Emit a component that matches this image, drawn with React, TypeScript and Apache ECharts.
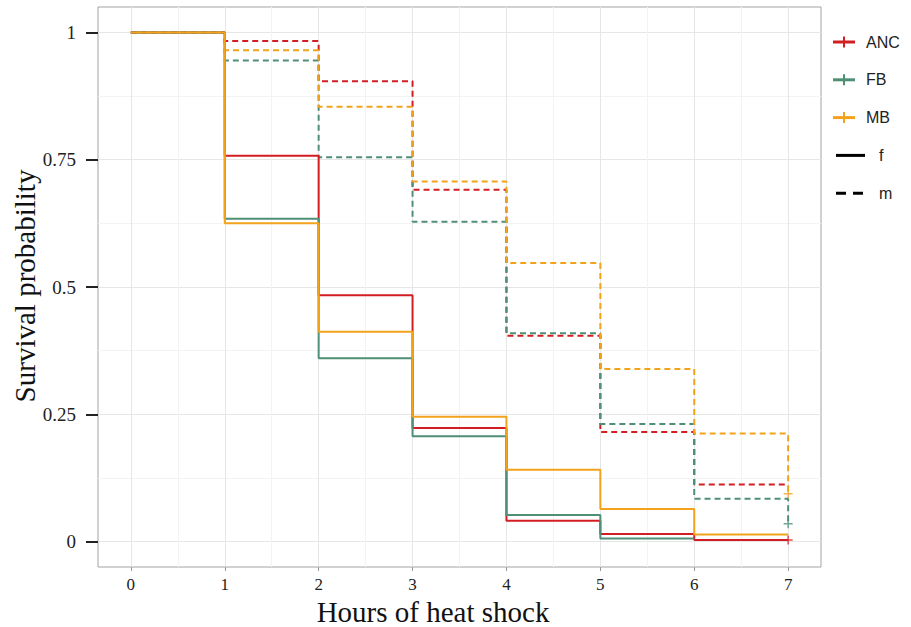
import React, { useEffect, useRef } from "react";
import * as echarts from "echarts";

const hours = [0, 1, 2, 3, 4, 5, 6, 7];
const xTicks = [0, 1, 2, 3, 4, 5, 6, 7];
const xMinor = [0.5, 1.5, 2.5, 3.5, 4.5, 5.5, 6.5];
const yTicks = [0, 0.25, 0.5, 0.75, 1];
const yMinor = [0.125, 0.375, 0.625, 0.875];

const ancF = [1, 0.758, 0.484, 0.223, 0.041, 0.015, 0.003, 0.003];
const fbF = [1, 0.634, 0.36, 0.207, 0.052, 0.006, 0.006];
const mbF = [1, 0.625, 0.412, 0.245, 0.141, 0.064, 0.014, 0.014];
const ancM = [1, 0.983, 0.904, 0.691, 0.404, 0.215, 0.112, 0.112];
const fbM = [1, 0.945, 0.755, 0.628, 0.409, 0.231, 0.084, 0.035];
const mbM = [1, 0.965, 0.854, 0.707, 0.547, 0.339, 0.212, 0.094];

const groups = ["ANC", "FB", "MB"];
const colors = ["#D21E23", "#4E8F75", "#F2A31B"];
const censorTimes = [7, 7, 7];
const censorValues = [0.003, 0.035, 0.094];

const plusPath =
  "path://M4.2,0H5.8V4.2H10V5.8H5.8V10H4.2V5.8H0V4.2H4.2Z";

function pairs(vals: number[]) {
  return vals.map((v, i) => [hours[i], v]);
}

export default function App() {
  const ref = useRef<HTMLDivElement>(null);
  useEffect(() => {
    if (!ref.current) return;
    const chart = echarts.init(ref.current, null, { renderer: "svg" });
    const stepSeries = (name: string, vals: number[], color: string, dashed: boolean, z: number) => ({
      name,
      type: "line",
      step: "end",
      data: pairs(vals),
      showSymbol: false,
      symbol: "none",
      z,
      lineStyle: { color, width: 2, type: dashed ? [6, 4] : "solid" },
    });
    const legendY = [42, 79.8, 117.6, 155.4, 193.2];
    const legendFont = "16px 'Liberation Sans', Arial, sans-serif";
    const legendGraphics: any[] = [];
    groups.forEach((g, i) => {
      legendGraphics.push({
        type: "line",
        shape: { x1: 833, y1: legendY[i], x2: 855, y2: legendY[i] },
        style: { stroke: colors[i], lineWidth: 3 },
      });
      legendGraphics.push({
        type: "line",
        shape: { x1: 844, y1: legendY[i] - 5.5, x2: 844, y2: legendY[i] + 5.5 },
        style: { stroke: colors[i], lineWidth: 2 },
      });
      legendGraphics.push({
        type: "text",
        x: 866,
        y: legendY[i],
        style: {
          text: g,
          fill: "#222",
          font: legendFont,
          verticalAlign: "middle",
          align: "left",
        },
      });
    });
    legendGraphics.push({
      type: "line",
      shape: { x1: 836, y1: legendY[3], x2: 865, y2: legendY[3] },
      style: { stroke: "#000", lineWidth: 3 },
    });
    legendGraphics.push({
      type: "text",
      x: 879,
      y: legendY[3],
      style: { text: "f", fill: "#222", font: legendFont, verticalAlign: "middle", align: "left" },
    });
    legendGraphics.push({
      type: "line",
      shape: { x1: 836, y1: legendY[4], x2: 864, y2: legendY[4] },
      style: { stroke: "#000", lineWidth: 3, lineDash: [10, 7] },
    });
    legendGraphics.push({
      type: "text",
      x: 879,
      y: legendY[4],
      style: { text: "m", fill: "#222", font: legendFont, verticalAlign: "middle", align: "left" },
    });

    chart.setOption({
      animation: false,
      backgroundColor: "#fff",
      grid: {
        left: 98,
        right: 90,
        top: 7,
        bottom: 60,
        show: true,
        borderColor: "#a3a3a3",
        borderWidth: 1,
        backgroundColor: "transparent",
      },
      xAxis: [
        {
          type: "value",
          min: -0.35,
          max: 7.35,
          position: "bottom",
          axisLine: { show: false, onZero: false },
          axisTick: { show: true, customValues: xTicks, length: 4, lineStyle: { color: "#999", width: 1 } },
          axisLabel: {
            customValues: xTicks,
            margin: 9,
            fontFamily: "'Liberation Serif', 'Times New Roman', serif",
            fontSize: 17,
            color: "#222",
          },
          splitLine: { show: true, lineStyle: { color: "#e6e6e6", width: 1 } },
        },
        {
          type: "value",
          min: -0.35,
          max: 7.35,
          position: "top",
          axisLine: { show: false, onZero: false },
          axisTick: { show: false, customValues: xMinor },
          axisLabel: { show: false, customValues: xMinor },
          splitLine: { show: true, lineStyle: { color: "#f3f3f3", width: 1 } },
        },
      ],
      yAxis: [
        {
          type: "value",
          min: -0.05,
          max: 1.05,
          position: "left",
          axisLine: { show: false, onZero: false },
          axisTick: { show: true, customValues: yTicks, length: 12, lineStyle: { color: "#222", width: 2 } },
          axisLabel: {
            customValues: yTicks,
            margin: 22,
            fontFamily: "'Liberation Serif', 'Times New Roman', serif",
            fontSize: 19,
            color: "#222",
          },
          splitLine: { show: true, lineStyle: { color: "#e6e6e6", width: 1 } },
        },
        {
          type: "value",
          min: -0.05,
          max: 1.05,
          position: "right",
          axisLine: { show: false, onZero: false },
          axisTick: { show: false, customValues: yMinor },
          axisLabel: { show: false, customValues: yMinor },
          splitLine: { show: true, lineStyle: { color: "#f3f3f3", width: 1 } },
        },
      ],
      series: [
        stepSeries("ANC m", ancM, colors[0], true, 2),
        stepSeries("FB m", fbM, colors[1], true, 2),
        stepSeries("MB m", mbM, colors[2], true, 2),
        stepSeries("ANC f", ancF, colors[0], false, 3),
        stepSeries("FB f", fbF, colors[1], false, 3),
        stepSeries("MB f", mbF, colors[2], false, 3),
        {
          name: "censor",
          type: "scatter",
          symbol: plusPath,
          symbolSize: 9,
          z: 4,
          data: censorTimes.map((t, i) => ({
            value: [t, censorValues[i]],
            itemStyle: { color: colors[i] },
          })),
        },
      ],
      graphic: [
        {
          type: "text",
          x: 25,
          y: 286,
          rotation: Math.PI / 2,
          style: {
            text: "Survival probability",
            fill: "#111",
            font: "29px 'Liberation Serif', 'Times New Roman', serif",
            align: "center",
            verticalAlign: "middle",
          },
        },
        {
          type: "text",
          x: 433,
          y: 612,
          style: {
            text: "Hours of heat shock",
            fill: "#111",
            font: "29px 'Liberation Serif', 'Times New Roman', serif",
            align: "center",
            verticalAlign: "middle",
          },
        },
        ...legendGraphics,
      ],
    });
    return () => chart.dispose();
  }, []);
  return <div ref={ref} style={{ width: 911, height: 627, position: "absolute", left: 0, top: 0 }} />;
}
